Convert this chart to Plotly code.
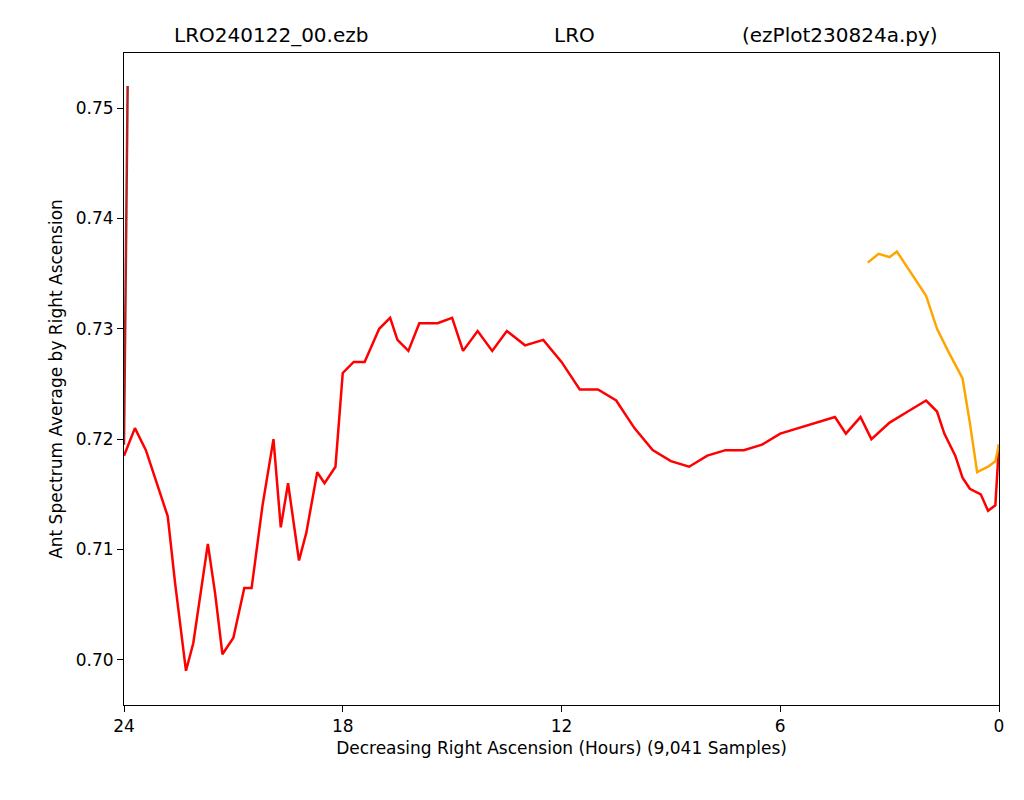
import plotly.graph_objects as go

# red series: hours, average
red_x = [24, 23.7, 23.4, 23.0, 22.8, 22.6, 22.3, 22.1, 21.9, 21.7, 21.5, 21.3, 21.0, 20.7, 20.5,
         20.2, 19.9, 19.7, 19.5, 19.2, 19.0, 18.7, 18.5, 18.2, 18.0, 17.7, 17.4, 17.0, 16.7,
         16.5, 16.2, 15.9, 15.4, 15.0, 14.7, 14.3, 13.9, 13.5, 13.0, 12.5, 12.0, 11.5, 11.0,
         10.5, 10.0, 9.5, 9.0, 8.5, 8.0, 7.5, 7.0, 6.5, 6.0, 5.5, 5.0, 4.5, 4.2, 3.8, 3.5,
         3.0, 2.5, 2.0, 1.7, 1.5, 1.2, 1.0, 0.8, 0.5, 0.3, 0.1, 0.0]
red_y = [0.7185, 0.721, 0.719, 0.715, 0.713, 0.707, 0.699, 0.7015, 0.706, 0.7105, 0.706, 0.7005,
         0.702, 0.7065, 0.7065, 0.714, 0.720, 0.712, 0.716, 0.709, 0.7115, 0.717, 0.716, 0.7175,
         0.726, 0.727, 0.727, 0.730, 0.731, 0.729, 0.728, 0.7305, 0.7305, 0.731, 0.728, 0.7298,
         0.728, 0.7298, 0.7285, 0.729, 0.727, 0.7245, 0.7245, 0.7235, 0.721, 0.719, 0.718,
         0.7175, 0.7185, 0.719, 0.719, 0.7195, 0.7205, 0.721, 0.7215, 0.722, 0.7205, 0.722,
         0.720, 0.7215, 0.7225, 0.7235, 0.7225, 0.7205, 0.7185, 0.7165, 0.7155, 0.715, 0.7135,
         0.714, 0.7195]

orange_x = [3.6, 3.3, 3.0, 2.8, 2.5, 2.0, 1.7, 1.4, 1.0, 0.8, 0.6, 0.3, 0.1, 0.0]
orange_y = [0.736, 0.7368, 0.7365, 0.737, 0.7355, 0.733, 0.730, 0.728, 0.7255, 0.7215, 0.717,
            0.7175, 0.718, 0.7195]

brown_x = [24, 23.9]
brown_y = [0.7195, 0.752]

fig = go.Figure()
fig.add_trace(go.Scatter(x=red_x, y=red_y, mode="lines", line=dict(color="red", width=2.5)))
fig.add_trace(go.Scatter(x=orange_x, y=orange_y, mode="lines", line=dict(color="orange", width=2.5)))
fig.add_trace(go.Scatter(x=brown_x, y=brown_y, mode="lines", line=dict(color="#b22222", width=2.5)))

for txt, xp in [("LRO240122_00.ezb", 0.168), ("LRO", 0.515), ("(ezPlot230824a.py)", 0.818)]:
    fig.add_annotation(text=txt, x=xp, y=1.0, xref="paper", yref="paper", yanchor="bottom",
                       xanchor="center", showarrow=False, font=dict(size=20, color="black"), yshift=4)

axis = dict(showgrid=False, zeroline=False, showline=True, linecolor="black", mirror=True,
            ticks="outside", ticklen=6, tickcolor="black", tickfont=dict(size=17, color="black"))
fig.update_xaxes(range=[24, 0], tickvals=[24, 18, 12, 6, 0],
                 title=dict(text="Decreasing Right Ascension (Hours) (9,041 Samples)",
                            font=dict(size=17, color="black"), standoff=6), **axis)
fig.update_yaxes(range=[0.6959, 0.755], tickvals=[0.70, 0.71, 0.72, 0.73, 0.74, 0.75],
                 tickformat=".2f",
                 title=dict(text="Ant Spectrum Average by Right Ascension",
                            font=dict(size=17, color="black"), standoff=8), **axis)
fig.update_layout(width=1024, height=800, showlegend=False, plot_bgcolor="white",
                  paper_bgcolor="white", font=dict(family="DejaVu Sans"),
                  margin=dict(l=116, r=33, t=45, b=103))
fig.write_html("out.html")
